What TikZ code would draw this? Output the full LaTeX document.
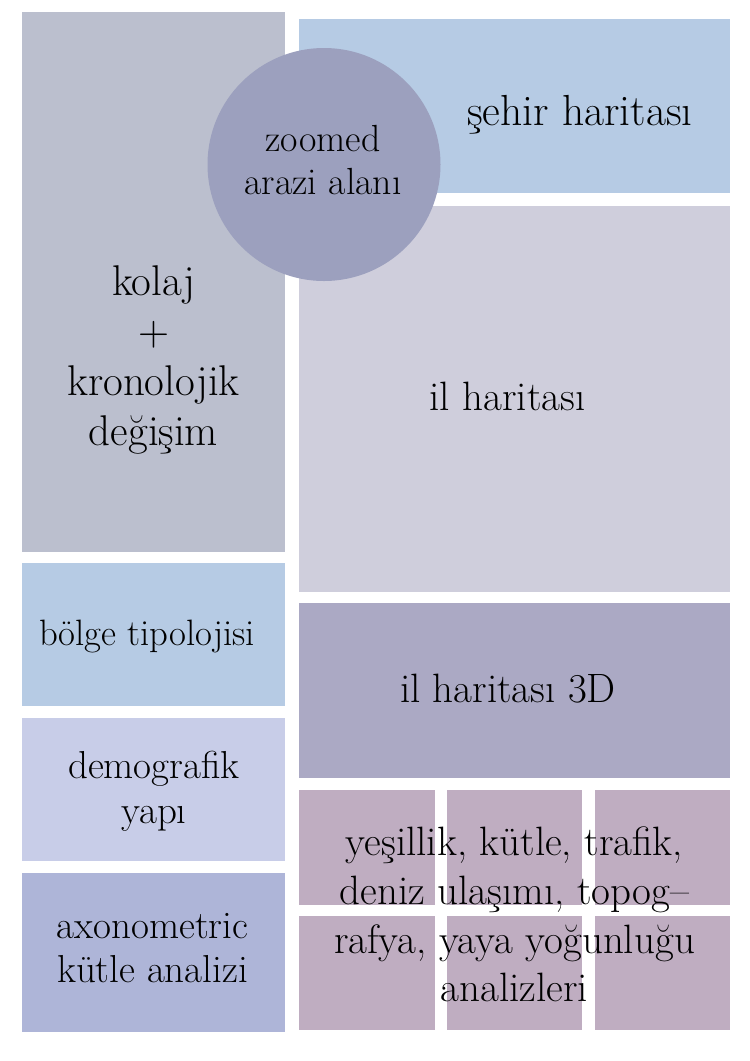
\documentclass[tikz,border=0pt]{standalone}
\usepackage{fontspec}
\definecolor{kolajgray}{HTML}{BBBFCE}
\definecolor{sehirblue}{HTML}{B6CBE4}
\definecolor{arazicircle}{HTML}{9CA0BE}
\definecolor{ilgray}{HTML}{CFCEDC}
\definecolor{demolilac}{HTML}{C8CDE8}
\definecolor{axonblue}{HTML}{AEB5D8}
\definecolor{ilviolet}{HTML}{ABA9C4}
\definecolor{analizmauve}{HTML}{BFADC1}
\begin{document}
\begin{tikzpicture}[x=1pt,y=-1pt,
  lbl/.style={align=center, inner sep=0pt, text=black},
  fs/.style 2 args={font=\fontsize{#1}{#2}\selectfont}]
\useasboundingbox (0,0) rectangle (750,1061);
% left column
\fill[kolajgray] (22,12) rectangle (285,552);
\fill[sehirblue] (22,563) rectangle (285,706);
\fill[demolilac] (22,718) rectangle (285,861);
\fill[axonblue] (22,873) rectangle (285,1032);
% right column
\fill[sehirblue] (299,19) rectangle (730,193);
\fill[ilgray] (299,206) rectangle (730,592);
\fill[ilviolet] (299,603) rectangle (730,778);
\foreach \xa/\xb in {299/435, 447/582, 595/730}
  \foreach \ya/\yb in {790/905, 916/1030}
    \fill[analizmauve] (\xa,\ya) rectangle (\xb,\yb);
% circle on top
\fill[arazicircle] (324,164.5) circle (116.5);
% labels
\node[lbl, fs={43}{50}] (kolaj) at (153.5,360.3) {kolaj\\+\\kronolojik\\değişim};
\node[lbl, fs={37.8}{43}] (arazi) at (323,160.4) {zoomed\\arazi alanı};
\node[lbl, fs={43.5}{48}, anchor=base] (sehir) at (580,125) {şehir haritası};
\node[lbl, fs={41}{46}, anchor=base] (il) at (507.5,410) {il haritası};
\node[lbl, fs={41}{46}, anchor=base] (il3d) at (508,702) {il haritası 3D};
\node[lbl, fs={36.7}{41}, anchor=base] (bolge) at (147,645) {bölge tipolojisi};
\node[lbl, fs={39}{45}] (demo) at (154,790.8) {demografik\\yapı};
\node[lbl, fs={39}{44}] (axon) at (152.5,948) {axonometric\\kütle analizi};
\node[lbl, fs={41}{48.7}] (analiz) at (514.5,914.7) {yeşillik, kütle, trafik,\\deniz ulaşımı, topog–\\rafya, yaya yoğunluğu\\analizleri};
\end{tikzpicture}
\end{document}
